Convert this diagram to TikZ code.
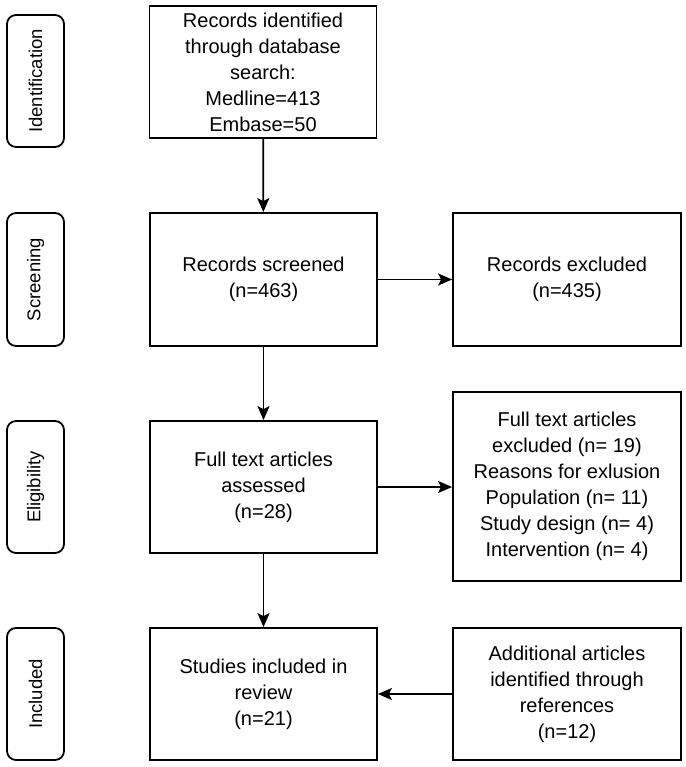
\documentclass[tikz,border=0pt]{standalone}
\usepackage{fontspec}
\setmainfont{Liberation Sans}
\usetikzlibrary{arrows.meta}
\begin{document}
\begin{tikzpicture}[x=1pt,y=-1pt,
  box/.style={draw, line width=1.8pt, align=center, inner sep=2pt,
    font=\fontsize{20}{26}\selectfont},
  stage/.style={draw, line width=1.8pt, rounded corners=9pt,
    font=\fontsize{18.5}{22}\selectfont, rotate=90},
  arr/.style={line width=1.8pt, -{Stealth[length=14pt,width=12pt,inset=3pt]}}]
\useasboundingbox (0,0) rectangle (685,767);
% stage labels (rotated: minimum height is the horizontal extent)
\node[stage, minimum width=132pt, minimum height=57pt] (sid) at (35.5,81) {Identification};
\node[stage, minimum width=133pt, minimum height=57pt] (sscr) at (35.5,279.5) {Screening};
\node[stage, minimum width=132pt, minimum height=57pt] (selg) at (35.5,487) {Eligibility};
\node[stage, minimum width=132pt, minimum height=57pt] (sinc) at (35.5,694) {Included};
% main column
\node[box, minimum width=227pt, minimum height=132pt] (id) at (263,72)
  {Records identified\\through database\\search:\\Medline=413\\Embase=50};
\node[box, minimum width=227pt, minimum height=133pt] (scr) at (263.5,279.5)
  {Records screened\\(n=463)};
\node[box, minimum width=227pt, minimum height=132pt] (elg) at (263.5,487)
  {Full text articles\\assessed\\(n=28)};
\node[box, minimum width=227pt, minimum height=132pt] (inc) at (263.5,694)
  {Studies included in\\review\\(n=21)};
% right column
\node[box, minimum width=228pt, minimum height=133pt] (exc) at (567,279.5)
  {Records excluded\\(n=435)};
\node[box, minimum width=228pt, minimum height=189pt] (fexc) at (567,486.5)
  {Full text articles\\excluded (n= 19)\\Reasons for exlusion\\Population (n= 11)\\Study design (n= 4)\\Intervention (n= 4)};
\node[box, minimum width=228pt, minimum height=132pt] (add) at (567,694)
  {Additional articles\\identified through\\references\\(n=12)};
% connectors
\draw[arr] (id) -- (scr);
\draw[arr] (scr) -- (elg);
\draw[arr] (elg) -- (inc);
\draw[arr] (scr) -- (exc);
\draw[arr] (elg.east) -- (elg.east -| fexc.west);
\draw[arr] (add) -- (inc);
\end{tikzpicture}
\end{document}
